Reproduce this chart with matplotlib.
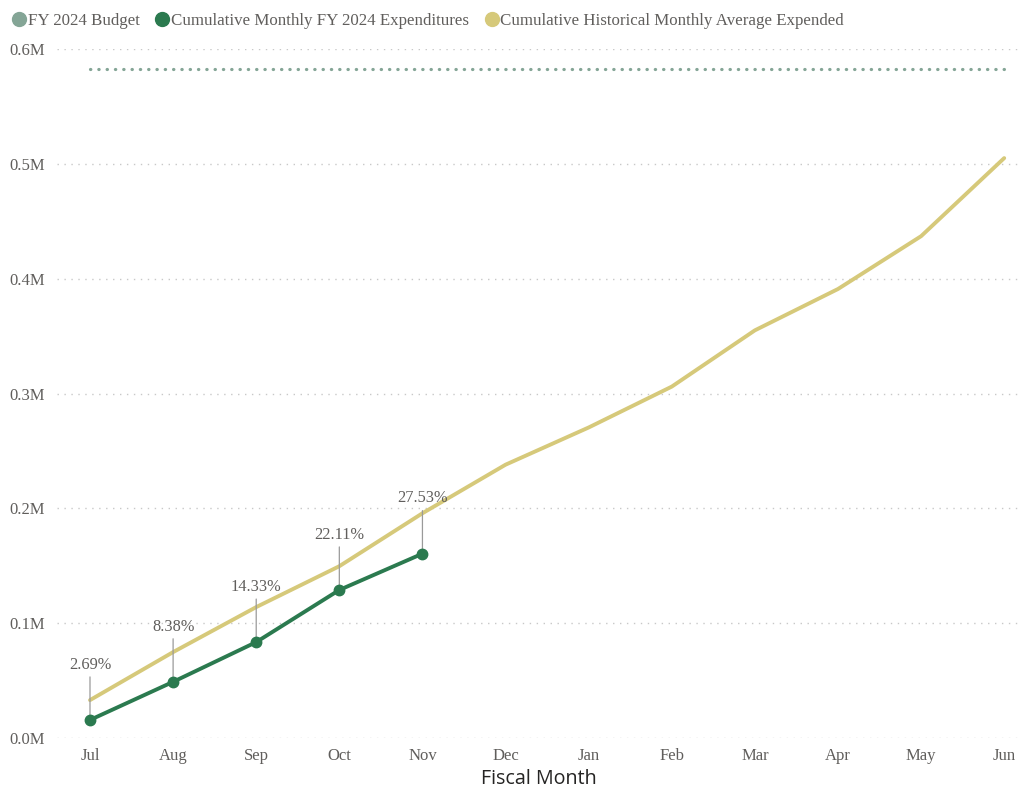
import matplotlib
matplotlib.use("Agg")
import matplotlib.pyplot as plt
from matplotlib.lines import Line2D
from matplotlib.ticker import FuncFormatter

months = ["Jul", "Aug", "Sep", "Oct", "Nov", "Dec", "Jan", "Feb", "Mar", "Apr", "May", "Jun"]
budget = 583000
expend = [15700, 48900, 83500, 128900, 160500]
exp_pct = ["2.69%", "8.38%", "14.33%", "22.11%", "27.53%"]
historical = [33000, 74800, 114000, 149600, 195700, 238000, 270400, 306000, 355000, 391000, 437000, 505000]
yticks = [0, 100000, 200000, 300000, 400000, 500000, 600000]

serif = ["Liberation Serif", "DejaVu Serif"]
c_budget = "#84a596"
c_green = "#2b7a4f"
c_yellow = "#d6c97a"
c_text = "#605e5c"

fig = plt.figure(figsize=(10.25, 7.88), dpi=100)
ax = fig.add_axes([57 / 1025, 50 / 788, (1020 - 57) / 1025, (738 - 49) / 788])

x = list(range(len(months)))
ax.set_xlim(-0.397, 11.19)
ax.set_ylim(0, 600000)

for s in ax.spines.values():
    s.set_visible(False)

ax.set_yticks(yticks)
ax.yaxis.set_major_formatter(FuncFormatter(lambda v, p: f"{v/1e6:.1f}M"))
ax.grid(axis="y", color="#c8c8c8", linestyle=(0, (1, 4)), linewidth=1)
ax.set_axisbelow(True)
ax.tick_params(axis="both", length=0, labelcolor=c_text, labelsize=12)
ax.tick_params(axis="y", pad=9)
ax.tick_params(axis="x", pad=7)
ax.set_xticks(x)
ax.set_xticklabels(months)
for lbl in ax.get_xticklabels() + ax.get_yticklabels():
    lbl.set_fontfamily(serif)

# Budget line
ax.plot([x[0], x[-1]], [budget, budget], color=c_budget, linewidth=2.3,
        linestyle=(0, (0.1, 2.5)), dash_capstyle="round", clip_on=False)
# Historical
ax.plot(x, historical, color=c_yellow, linewidth=2.8, solid_capstyle="round", clip_on=False)
# Expenditures
ax.plot(x[:len(expend)], expend, color=c_green, linewidth=2.8, marker="o",
        markersize=7.5, clip_on=False, zorder=5)

for xi, v, t in zip(x, expend, exp_pct):
    ax.annotate(t, xy=(xi, v), xytext=(0, 34), textcoords="offset points",
                ha="center", va="bottom", fontsize=11.8, color=c_text, family=serif,
                arrowprops=dict(arrowstyle="-", color="#9a9a9a", lw=0.9,
                                shrinkA=1, shrinkB=0))

ax.set_xlabel("Fiscal Month", fontsize=14.2, color="#252423", family=["Open Sans", "DejaVu Sans"], labelpad=4)

handles = [
    Line2D([], [], marker="o", linestyle="none", color=c_budget, markersize=10),
    Line2D([], [], marker="o", linestyle="none", color=c_green, markersize=10),
    Line2D([], [], marker="o", linestyle="none", color=c_yellow, markersize=10),
]
labels = ["FY 2024 Budget", "Cumulative Monthly FY 2024 Expenditures",
          "Cumulative Historical Monthly Average Expended"]
leg = fig.legend(handles, labels, loc="upper left", bbox_to_anchor=(-0.006, 1.003), ncol=3,
                 frameon=False, handletextpad=-0.1, columnspacing=0.75, handlelength=1.2,
                 prop={"family": serif, "size": 12.2})
for t in leg.get_texts():
    t.set_color(c_text)

fig.savefig("out.png", dpi=100)
